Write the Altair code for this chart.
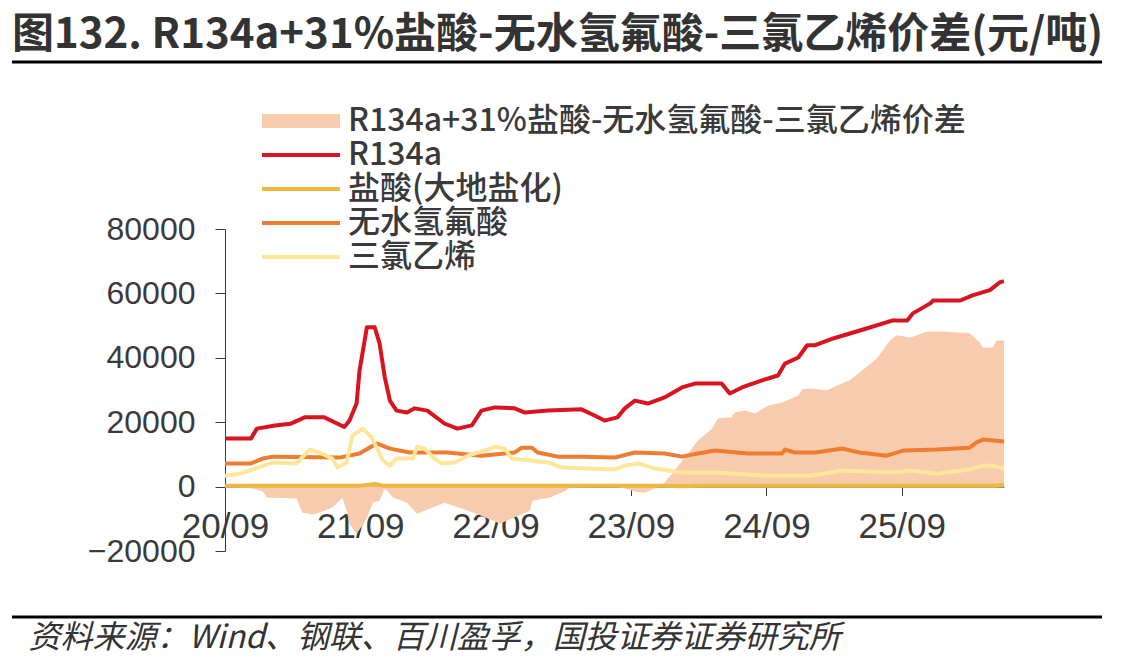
import altair as alt
import pandas as pd

# ---------------- data ----------------
SERIES = [
    "R134a+31%盐酸-无水氢氟酸-三氯乙烯价差",
    "R134a",
    "盐酸(大地盐化)",
    "无水氢氟酸",
    "三氯乙烯",
]
COLORS = ["#F8CBAD", "#D7141F", "#EDB83D", "#ED7D31", "#FFE699"]

spread_dates = [
    "2020-09-01", "2020-11-13", "2020-12-12", "2020-12-23", "2021-03-13", "2021-03-29",
    "2021-04-25", "2021-05-06", "2021-06-18", "2021-07-01", "2021-07-15", "2021-07-26",
    "2021-08-03", "2021-08-22", "2021-09-08", "2021-09-19", "2021-10-05", "2021-10-23",
    "2021-11-06", "2021-11-20", "2021-11-28", "2022-01-05", "2022-02-01", "2022-03-15",
    "2022-04-16", "2022-07-12", "2022-09-13", "2022-12-02", "2022-12-10", "2023-01-26",
    "2023-03-11", "2023-03-19", "2023-07-19", "2023-08-16", "2023-09-12", "2023-10-09",
    "2023-11-05", "2023-12-01", "2023-12-28", "2024-01-25", "2024-02-29", "2024-04-07",
    "2024-04-23", "2024-05-30", "2024-06-08", "2024-07-05", "2024-08-01", "2024-09-06",
    "2024-10-13", "2024-11-26", "2024-12-06", "2024-12-28", "2025-02-12", "2025-03-10",
    "2025-04-14", "2025-05-18", "2025-06-26", "2025-07-31", "2025-08-19", "2025-09-24",
    "2025-11-09", "2025-12-21", "2026-03-03", "2026-03-30", "2026-04-08", "2026-05-05",
    "2026-05-15", "2026-06-04",
]
spread_values = [
    0, -600, -1500, -3400, -3700, -8100,
    -8700, -8400, -6500, -5000, -3500, -7500,
    -11500, -14600, -12000, -9600, -5000, -4400,
    -600, -2200, -3400, -5000, -8400, -6500,
    -5000, -8400, -11500, -7500, -4400, -3400,
    -1200, -300, 0, -600, -1500, -1900,
    -500, 1200, 5000, 9000, 14300, 18000,
    21200, 21500, 23000, 23600, 22700, 25200,
    26100, 28300, 30200, 30500, 29900, 31400,
    33000, 36100, 39800, 45400, 47000, 46300,
    48200, 48200, 47600, 44800, 43200, 43200,
    45400, 45400,
]

r134a_dates = [
    "2020-09-01", "2020-11-10", "2020-11-26", "2021-01-14", "2021-02-24", "2021-04-04",
    "2021-05-27", "2021-07-20", "2021-08-03", "2021-08-22", "2021-08-30", "2021-09-19",
    "2021-10-10", "2021-10-23", "2021-11-06", "2021-11-20", "2021-12-08", "2022-01-05",
    "2022-01-26", "2022-03-01", "2022-04-16", "2022-05-21", "2022-06-29", "2022-07-25",
    "2022-08-30", "2022-10-23", "2022-11-19", "2023-01-21", "2023-04-21", "2023-05-26",
    "2023-06-22", "2023-07-27", "2023-08-16", "2023-09-12", "2023-10-17", "2023-12-01",
    "2024-01-17", "2024-02-21", "2024-05-03", "2024-05-25", "2024-06-27", "2024-08-20",
    "2024-10-02", "2024-10-21", "2024-11-26", "2024-12-20", "2025-01-11", "2025-02-28",
    "2025-05-29", "2025-08-08", "2025-09-16", "2025-10-01", "2025-11-17", "2025-11-25",
    "2026-02-06", "2026-03-11", "2026-04-27", "2026-05-23", "2026-06-04",
]
r134a_values = [
    14900, 14900, 18000, 19000, 19500, 21500,
    21500, 18500, 20500, 25800, 36000, 49500,
    49500, 44500, 34000, 26700, 23600, 23000,
    24300, 23600, 19600, 18000, 19000, 23600,
    24600, 24300, 23000, 23600, 24000, 22100,
    20500, 21500, 24300, 26700, 25800, 27700,
    30800, 32000, 32000, 28900, 30800, 33000,
    34500, 38200, 40100, 43900, 43900, 46000,
    49100, 51600, 51600, 53800, 56900, 57800,
    57800, 59400, 61000, 63400, 63800,
]

hcl_dates = [
    "2020-09-01", "2021-09-01", "2021-10-10", "2021-11-01", "2023-12-01",
    "2024-01-17", "2024-03-01", "2026-05-15", "2026-06-04",
]
hcl_values = [300, 300, 800, 300, 300, 100, 300, 300, 600]

hf_dates = [
    "2020-09-01", "2020-11-10", "2020-12-12", "2021-01-09", "2021-07-07", "2021-08-30",
    "2021-10-15", "2021-11-20", "2022-01-13", "2022-04-24", "2022-07-25", "2022-10-23",
    "2022-11-11", "2022-12-08", "2022-12-24", "2023-02-16", "2023-04-21", "2023-07-19",
    "2023-09-12", "2023-12-01", "2024-01-17", "2024-02-29", "2024-04-15", "2024-07-13",
    "2024-10-13", "2024-10-21", "2024-11-17", "2025-01-11", "2025-03-25", "2025-05-10",
    "2025-07-22", "2025-09-05", "2025-12-05", "2026-03-03", "2026-03-22", "2026-04-08",
    "2026-06-04",
]
hf_values = [
    7200, 7200, 8700, 9300, 9000, 10300,
    13400, 11800, 10600, 10600, 9600, 10600,
    12100, 12100, 10600, 9300, 9300, 9000,
    10600, 10300, 9300, 10300, 11200, 10300,
    10300, 11500, 10600, 10600, 11800, 10600,
    9600, 11200, 11500, 12100, 13700, 14600,
    14000,
]

tce_dates = [
    "2020-09-01", "2020-10-11", "2020-11-13", "2021-01-09", "2021-03-13", "2021-04-17",
    "2021-05-14", "2021-06-18", "2021-07-01", "2021-07-26", "2021-08-11", "2021-09-08",
    "2021-10-02", "2021-11-01", "2021-11-20", "2021-12-08", "2022-01-21", "2022-02-01",
    "2022-02-22", "2022-03-20", "2022-04-08", "2022-05-13", "2022-06-18", "2022-08-03",
    "2022-08-30", "2022-09-26", "2022-10-15", "2023-01-21", "2023-02-28", "2023-05-07",
    "2023-07-19", "2023-08-16", "2023-09-20", "2023-11-05", "2024-01-17", "2024-04-15",
    "2024-08-28", "2024-12-28", "2025-03-25", "2025-08-08", "2025-09-24", "2025-12-05",
    "2026-03-03", "2026-04-08", "2026-05-05", "2026-06-04",
]
tce_values = [
    3400, 4000, 5300, 7500, 7200, 11500,
    10600, 8700, 5900, 7500, 15900, 18000,
    15200, 8100, 6500, 8700, 8700, 12400,
    11800, 8700, 7200, 7500, 9600, 11200,
    12400, 11800, 8700, 7500, 5900, 5600,
    5300, 6500, 7200, 5600, 4400, 4400,
    3400, 3400, 5000, 4400, 5000, 4000,
    5300, 6500, 6500, 5600,
]

x_ticks = ["2020-09-01", "2021-09-01", "2022-09-01", "2023-09-01", "2024-09-01", "2025-09-01"]
y_ticks = [-20000, 0, 20000, 40000, 60000, 80000]

TITLE = "图132. R134a+31%盐酸-无水氢氟酸-三氯乙烯价差(元/吨)"
SOURCE = "资料来源：Wind、钢联、百川盈孚，国投证券证券研究所"

# ---------------- frames ----------------
def frame(name, dates, values):
    return pd.DataFrame({"date": dates, "value": values, "series": name})

spread_df = frame(SERIES[0], spread_dates, spread_values)
lines_df = pd.concat(
    [
        frame(SERIES[1], r134a_dates, r134a_values),
        frame(SERIES[2], hcl_dates, hcl_values),
        frame(SERIES[3], hf_dates, hf_values),
        frame(SERIES[4], tce_dates, tce_values),
    ],
    ignore_index=True,
)

# ---------------- layout ----------------
W, H = 779, 322
PAD_L, PAD_T = 225, 229
CJK = "Noto Sans CJK SC"
NUM = "Liberation Sans"
TEXT = "#3a3a3a"
LEG_X, LEG_Y, ROW = 31, -124, 34

# legend symbols: unit = 10 px (size 400), swatch spans 78 px to the right of the entry start
legend_common = dict(
    title=None,
    orient="none",
    direction="vertical",
    padding=0,
    labelFont=CJK,
    labelFontSize=32,
    labelFontWeight=500,
    labelColor=TEXT,
    labelLimit=0,
    labelOffset=60,
    rowPadding=2,
    symbolSize=400,
    symbolOpacity=1,
)

fill_legend = alt.Legend(
    legendX=LEG_X,
    legendY=LEG_Y,
    symbolType="M-1,-0.7H6.8V0.7H-1Z",
    symbolStrokeWidth=0,
    **legend_common,
)
stroke_legend = alt.Legend(
    legendX=LEG_X,
    legendY=LEG_Y + ROW,
    symbolType="M-1,0H6.8",
    symbolStrokeWidth=4,
    **legend_common,
)

x_enc = alt.X(
    "date:T",
    scale=alt.Scale(domain=["2020-09-01", "2026-06-04"]),
    axis=alt.Axis(
        values=x_ticks,
        format="%y/%m",
        labelFont=NUM,
        labelFontSize=35,
        labelColor=TEXT,
        labelFlush=False,
        labelPadding=14,
        tickSize=9,
        tickColor=TEXT,
        domainColor=TEXT,
        grid=False,
        offset=-(H * 0.2),
        title=SOURCE,
        titleFont=CJK,
        titleFontSize=32,
        titleFontWeight="normal",
        titleFontStyle="italic",
        titleColor="#333333",
        titleAlign="left",
        titleBaseline="middle",
        titleX=28 - PAD_L,
        titleY=151,
    ),
)
y_enc = alt.Y(
    "value:Q",
    scale=alt.Scale(domain=[-20000, 80000], nice=False),
    axis=alt.Axis(
        values=y_ticks,
        format="d",
        labelFont=NUM,
        labelFontSize=32,
        labelColor=TEXT,
        labelPadding=20,
        tickSize=10,
        tickColor=TEXT,
        domainColor=TEXT,
        grid=False,
        title=None,
    ),
)

area = alt.Chart(spread_df).mark_area(opacity=1).encode(
    x=x_enc,
    y=y_enc,
    fill=alt.Fill(
        "series:N",
        scale=alt.Scale(domain=SERIES[:1], range=COLORS[:1]),
        legend=fill_legend,
    ),
)

lines = alt.Chart(lines_df).mark_line(strokeWidth=4, strokeJoin="round").encode(
    x="date:T",
    y="value:Q",
    stroke=alt.Stroke(
        "series:N",
        scale=alt.Scale(domain=SERIES[1:], range=COLORS[1:]),
        sort=SERIES[1:],
        legend=stroke_legend,
    ),
)

one = pd.DataFrame({"k": [0]})
rule_top = alt.Chart(one).mark_rule(color="black", strokeWidth=3).encode(
    x=alt.value(12 - PAD_L), x2=alt.value(1102 - PAD_L), y=alt.value(62 - PAD_T)
)
rule_bottom = alt.Chart(one).mark_rule(color="black", strokeWidth=3).encode(
    x=alt.value(12 - PAD_L), x2=alt.value(1102 - PAD_L), y=alt.value(617 - PAD_T)
)

chart = (
    alt.layer(area, lines, rule_top, rule_bottom)
    .resolve_scale(fill="independent", stroke="independent")
    .properties(
        width=W,
        height=H,
        background="white",
        padding={"left": PAD_L, "top": PAD_T, "right": 1147 - PAD_L - W, "bottom": 672 - PAD_T - H},
        autosize=alt.AutoSizeParams(type="none"),
        title=alt.TitleParams(
            text=TITLE,
            anchor="start",
            frame="group",
            font=CJK,
            fontSize=42,
            fontWeight="bold",
            color="#333333",
            dx=12 - PAD_L,
            offset=4,
        ),
    )
    .configure_view(stroke="transparent", strokeWidth=0)
)

chart.save("out.html", embed_options={"renderer": "svg", "actions": False})
